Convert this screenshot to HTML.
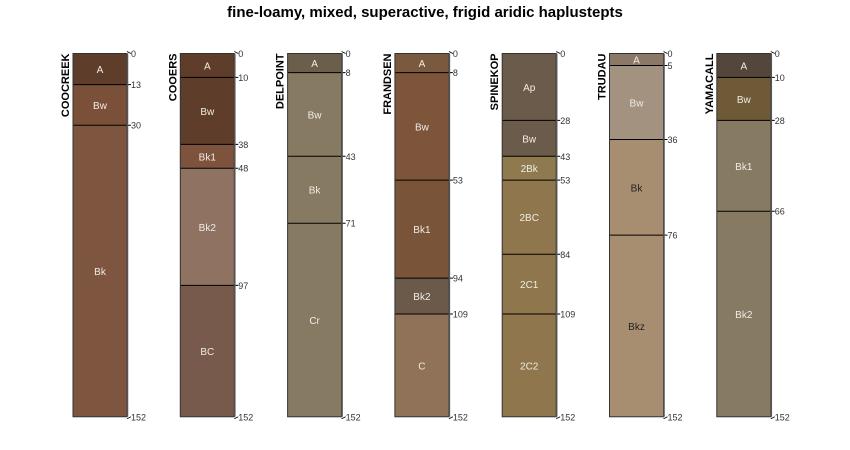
<!DOCTYPE html>
<html><head><meta charset="utf-8"><style>
body{margin:0;background:#fff;}
svg{display:block;font-family:"Liberation Sans",sans-serif;}
</style></head><body>
<svg id="c" width="850" height="450">
<text x="425" y="17" text-anchor="middle" font-size="15" font-weight="bold" fill="#000">fine-loamy, mixed, superactive, frigid aridic haplustepts</text>
</svg>
<script>
const profileNames=["COOCREEK","COOERS","DELPOINT","FRANDSEN","SPINEKOP","TRUDAU","YAMACALL"];
const horizonNames=[["A","Bw","Bk"],["A","Bw","Bk1","Bk2","BC"],["A","Bw","Bk","Cr"],["A","Bw","Bk1","Bk2","C"],["Ap","Bw","2Bk","2BC","2C1","2C2"],["A","Bw","Bk","Bkz"],["A","Bw","Bk1","Bk2"]];
const horizonDepths=[[0,13,30,152],[0,10,38,48,97,152],[0,8,43,71,152],[0,8,53,94,109,152],[0,28,43,53,84,109,152],[0,5,36,76,152],[0,10,28,66,152]];
const horizonColors=[["#5e3d2a","#7a5039","#7e5640"],["#5e3d2a","#5e3d2a","#7d533d","#8f7261","#775a4b"],["#6b5e4a","#877a63","#877a63","#877a63"],["#7a5a3e","#7d553a","#7a5439","#6b5a4a","#8f7258"],["#6b5b4a","#6b5b4a","#8f7a4f","#8f764c","#8f764c","#8f764c"],["#8c7866","#a39280","#a88e70","#a88e70"],["#54463a","#6e5a36","#877a63","#877a63"]];
const darkText=[[0,0,0],[0,0,0,0,0],[0,0,0,0],[0,0,0,0,0],[0,0,0,0,0,0],[0,0,1,1],[0,0,0,0]];
const svg=document.getElementById('c');const NS='http://www.w3.org/2000/svg';
const top0=53.5,scale=2.39,w=54;
const xLeft=i=>73+i*107.3;
const yD=d=>top0+d*scale;
function mk(t,a,p){const e=document.createElementNS(NS,t);for(const k in a)e.setAttribute(k,a[k]);(p||svg).appendChild(e);return e;}
profileNames.forEach((name,i)=>{
 const g=mk('g',{});
 
 
 const x=xLeft(i);const ds=horizonDepths[i];
 for(let j=0;j<horizonNames[i].length;j++){
  const y0=yD(ds[j]),y1=yD(ds[j+1]);
  const r=mk('rect',{x:x,y:y0,width:w,height:y1-y0,fill:horizonColors[i][j]},g);
  
  
  const t=mk('text',{x:x+w/2,y:(y0+y1)/2+4,'text-anchor':'middle','font-size':10,fill:darkText[i][j]?'#222':'#f0ece6'},g);
  t.textContent=horizonNames[i][j];
  
  
  if(j>0)mk('line',{x1:x,x2:x+w+4,y1:y0,y2:y0,stroke:'#000','stroke-width':1},g);
 }
 mk('rect',{x:x,y:yD(0),width:w,height:yD(152)-yD(0),fill:'none',stroke:'#333','stroke-width':1},g);
 mk('line',{x1:x+w+0.5,x2:x+w+0.5,y1:yD(0),y2:yD(152),stroke:'#555','stroke-width':1.5},g);
 ds.forEach((d,k)=>{
  const y=yD(d);
  if(k===0||k===ds.length-1)mk('line',{x1:x+w,x2:x+w+4,y1:y+(k===0?-2:2),y2:y,stroke:'#000','stroke-width':0.8},g);
  const t=mk('text',{x:x+w+4,y:y+3.5,'font-size':9,fill:'#333'},g);
  t.textContent=d;
  
  
 });
 const n=mk('text',{x:0,y:0,'font-size':11,'font-weight':'bold','text-anchor':'end',transform:`translate(${x-4},${yD(0)}) rotate(-90)`},g);
 n.textContent=name;
 
 
});
</script>
</body></html>
